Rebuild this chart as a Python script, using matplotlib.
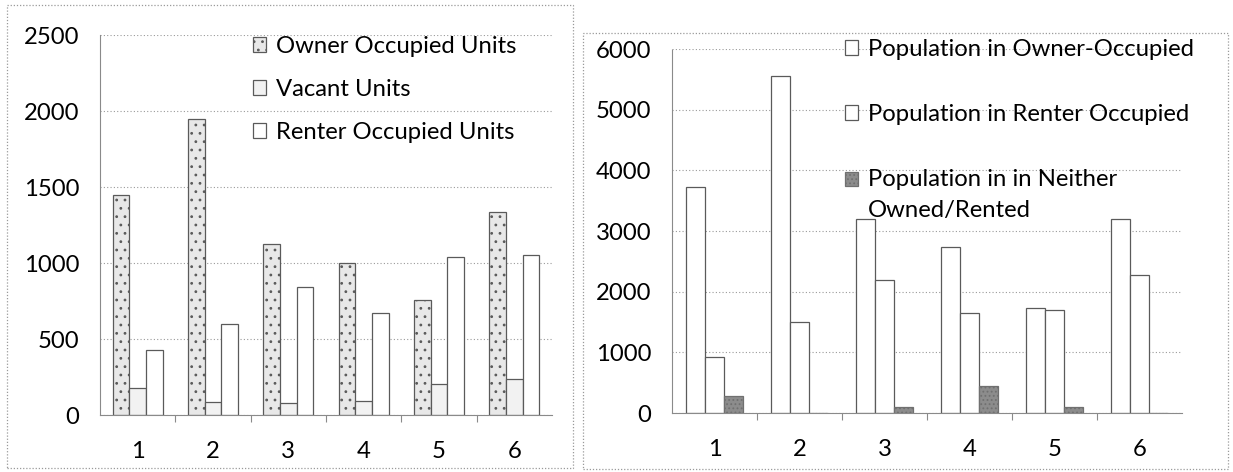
import matplotlib
matplotlib.use("Agg")
import matplotlib.pyplot as plt
from matplotlib.patches import Rectangle
import numpy as np

plt.rcParams['font.family'] = ['Lato', 'DejaVu Sans']
plt.rcParams['hatch.color'] = '#a8a8a8'
plt.rcParams['hatch.linewidth'] = 0.8

categories = ['1', '2', '3', '4', '5', '6']

owner_units = [1447, 1945, 1123, 998, 757, 1338]
vacant_units = [180, 83, 80, 90, 205, 240]
renter_units = [428, 599, 840, 669, 1042, 1053]

pop_owner = [3720, 5560, 3200, 2730, 1730, 3190]
pop_renter = [920, 1500, 2190, 1650, 1690, 2280]
pop_neither = [275, 0, 100, 440, 100, 0]

left_labels = ['Owner Occupied Units', 'Vacant Units', 'Renter Occupied Units']
right_labels = ['Population in Owner-Occupied', 'Population in Renter Occupied',
                'Population in in Neither\nOwned/Rented']

W, H = 1233, 472
fig = plt.figure(figsize=(W / 100, H / 100), dpi=100)
fs = 17.2

def px(x0, y0, x1, y1):
    return [x0 / W, 1 - y1 / H, (x1 - x0) / W, (y1 - y0) / H]

# panel borders
for (x0, y0, x1, y1) in [(7, 5, 573, 468), (583, 33, 1228, 469)]:
    fig.patches.append(Rectangle((x0 / W, 1 - y1 / H), (x1 - x0) / W, (y1 - y0) / H,
                                 transform=fig.transFigure, fill=False,
                                 edgecolor='#9a9a9a', linestyle=(0, (1, 1.5)),
                                 linewidth=0.9))

def style_axes(ax, ymax, ystep):
    ax.set_xlim(0.5, 6.5)
    ax.set_ylim(0, ymax)
    ax.set_yticks(np.arange(0, ymax + 1, ystep))
    ax.set_xticks(np.arange(1, 7))
    ax.set_xticklabels(categories)
    ax.set_xticks(np.arange(1.5, 6.5, 1.0), minor=True)
    ax.tick_params(axis='x', which='major', length=0, pad=19, labelsize=fs)
    ax.tick_params(axis='x', which='minor', length=5, color='#8a8a8a', width=0.8)
    ax.tick_params(axis='y', length=0, pad=15, labelsize=fs)
    for s in ['top', 'right']:
        ax.spines[s].set_visible(False)
    ax.spines['left'].set_color('#8a8a8a')
    ax.spines['left'].set_linestyle((0, (1, 1)))
    ax.spines['bottom'].set_color('#8a8a8a')
    ax.spines['bottom'].set_linestyle((0, (1, 1)))
    ax.grid(axis='y', color='#9a9a9a', linestyle=(0, (1, 2)), linewidth=0.8)
    ax.set_axisbelow(True)

x = np.arange(1, 7)
bw = 0.222

# Left chart
ax1 = fig.add_axes(px(100, 35, 552, 415))
ax1.bar(x - bw, owner_units, bw, color='#e8e8e8', edgecolor='#5a5a5a', linewidth=0.9,
        hatch='..', label=left_labels[0])
ax1.bar(x, vacant_units, bw, color='#f2f2f2', edgecolor='#5a5a5a', linewidth=0.9,
        label=left_labels[1])
ax1.bar(x + bw, renter_units, bw, color='white', edgecolor='#5a5a5a', linewidth=0.9,
        label=left_labels[2])
style_axes(ax1, 2500, 500)
leg1 = ax1.legend(loc='upper left', bbox_to_anchor=(253 / W, 1 - 36 / H),
                  bbox_transform=fig.transFigure, frameon=False, fontsize=fs,
                  handlelength=0.55, handleheight=0.55, handletextpad=0.4,
                  labelspacing=0.92, borderpad=0, borderaxespad=0)

# Right chart
ax2 = fig.add_axes(px(672, 49, 1182, 413))
ax2.bar(x - bw, pop_owner, bw, color='white', edgecolor='#5a5a5a', linewidth=0.9,
        label=right_labels[0])
ax2.bar(x, pop_renter, bw, color='white', edgecolor='#5a5a5a', linewidth=0.9,
        label=right_labels[1])
ax2.bar(x + bw, pop_neither, bw, color='#8c8c8c', edgecolor='#707070', linewidth=0.9,
        hatch='....', label=right_labels[2])
style_axes(ax2, 6000, 1000)
leg2 = ax2.legend(loc='upper left', bbox_to_anchor=(845 / W, 1 - 39 / H),
                  bbox_transform=fig.transFigure, frameon=False, fontsize=fs,
                  handlelength=0.55, handleheight=0.55, handletextpad=0.4,
                  labelspacing=1.84, borderpad=0, borderaxespad=0)
leg2.get_texts()[2].set_linespacing(1.58)
# align third handle with first line of its two-line label
p = leg2.get_patches()[2]
p.set_y(p.get_y() + 0.66 * fs)

fig.savefig('out.png', dpi=100)
